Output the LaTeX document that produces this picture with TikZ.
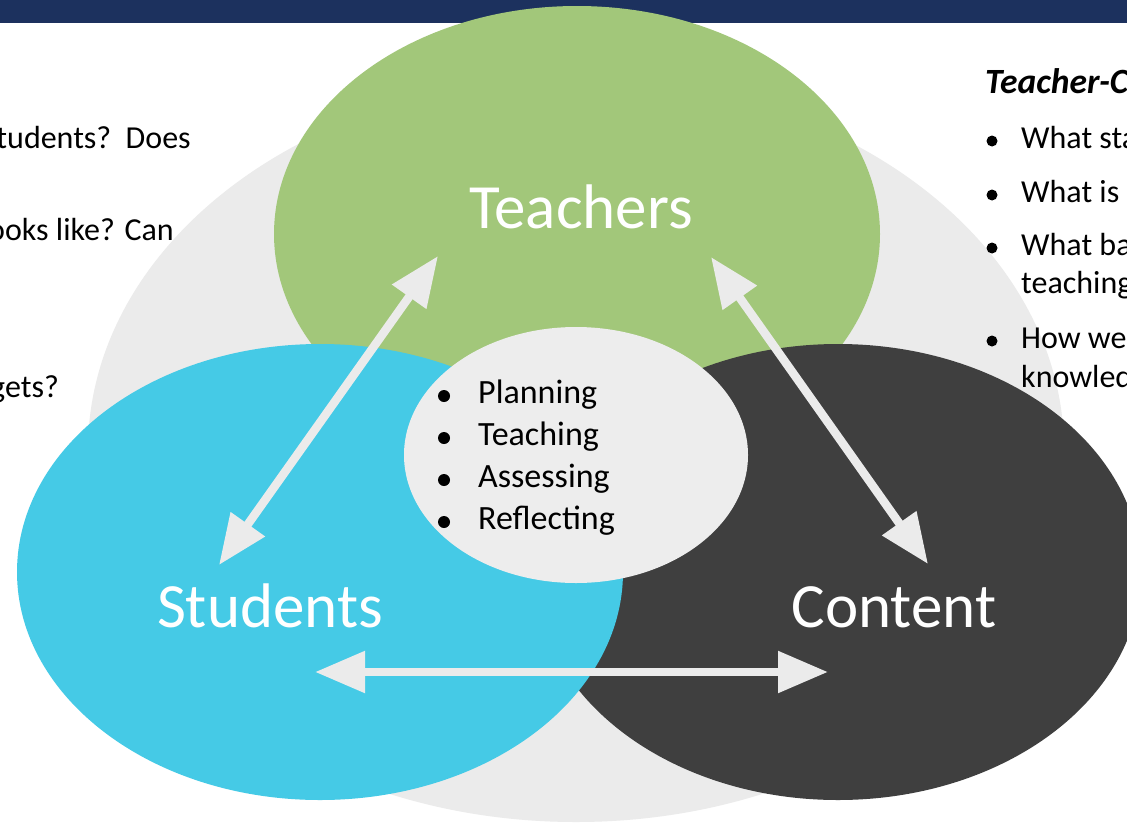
\documentclass[tikz,border=0pt]{standalone}
\usepackage{fontspec}
\setmainfont{Carlito}
\usetikzlibrary{shapes.geometric,arrows.meta}

\definecolor{bandnavy}{RGB}{28,49,94}
\definecolor{backgray}{RGB}{235,235,235}
\definecolor{coregray}{RGB}{237,237,237}
\definecolor{teachgreen}{RGB}{162,199,122}
\definecolor{studblue}{RGB}{69,202,230}
\definecolor{contdark}{RGB}{63,63,63}

\begin{document}
\begin{tikzpicture}[x=1pt,y=-1pt,
    blob/.style={ellipse,inner sep=0pt,draw=none},
    biglabel/.style={text=white,anchor=base,font=\fontsize{63}{75}\selectfont},
    coreitem/.style={anchor=base west,inner sep=0pt,font=\fontsize{34}{41}\selectfont},
    sidetext/.style={inner sep=0pt,font=\fontsize{32}{38}\selectfont},
    twoway/.style={{Triangle[length=50pt,width=40pt]}-{Triangle[length=50pt,width=40pt]},line width=8.5pt,draw=backgray}]

        \useasboundingbox (0,0) rectangle (1127,822);
        \clip (0,0) rectangle (1127,822);

        %Background
        \fill[white] (0,0) rectangle (1127,822);
        \fill[bandnavy] (0,0) rectangle (1127,23);
        \node[blob, fill=backgray, minimum width=976pt, minimum height=744pt] (back) at (576,450) {};

        %Side texts
        \node[sidetext, anchor=base east] (leftone) at (191,148) {tudents?\ \ Does};
        \node[sidetext, anchor=base east] (lefttwo) at (174,240) {ooks like? Can};
        \node[sidetext, anchor=base east] (leftthree) at (59,397) {gets?};

        \node[sidetext, anchor=base west, font=\fontsize{35.5}{42}\selectfont\bfseries\itshape] (righttitle) at (985,93) {Teacher-C};
        \fill (992,141) circle (5.5pt);
        \node[sidetext, anchor=base west] (rightone) at (1021,148) {What sta};
        \fill (992,195) circle (5.5pt);
        \node[sidetext, anchor=base west] (righttwo) at (1021,202) {What is t};
        \fill (992,248) circle (5.5pt);
        \node[sidetext, anchor=base west] (rightthree) at (1021,255) {What ba};
        \node[sidetext, anchor=base west] (rightthreeb) at (1021,293) {teaching};
        \fill (992,341) circle (5.5pt);
        \node[sidetext, anchor=base west] (rightfour) at (1021,348) {How we};
        \node[sidetext, anchor=base west] (rightfourb) at (1021,387) {knowled};

        %Teachers
        \node[blob, fill=teachgreen, minimum width=606pt, minimum height=456pt] (teachers) at (577,234) {};
        %Content
        \node[blob, fill=contdark, minimum width=606pt, minimum height=456pt] (content) at (838,572) {};
        %Students
        \node[blob, fill=studblue, minimum width=606pt, minimum height=456pt] (students) at (320,572) {};
        %Core
        \node[blob, fill=coregray, minimum width=344pt, minimum height=256pt] (core) at (576,455) {};

        \node[biglabel] (teacherslabel) at (581,228) {Teachers};
        \node[biglabel] (studentslabel) at (270,627) {Students};
        \node[biglabel] (contentlabel) at (894,627) {Content};

        \fill (444,396) circle (6pt);
        \node[coreitem] (planning) at (478,403) {Planning};
        \fill (444,438) circle (6pt);
        \node[coreitem] (teaching) at (478,445) {Teaching};
        \fill (444,480) circle (6pt);
        \node[coreitem] (assessing) at (478,487) {Assessing};
        \fill (444,522) circle (6pt);
        \node[coreitem] (reflecting) at (478,529) {Reflecting};

        %Arrows
        \coordinate (ts-top) at (438,256);
        \coordinate (ts-bot) at (219,565);
        \coordinate (tc-top) at (711,257);
        \coordinate (tc-bot) at (928,564);
        \coordinate (sc-left) at (315,672);
        \coordinate (sc-right) at (828,672);
        \draw[twoway] (ts-top) -- (ts-bot);
        \draw[twoway] (tc-top) -- (tc-bot);
        \draw[twoway] (sc-left) -- (sc-right);
    \end{tikzpicture}
\end{document}
